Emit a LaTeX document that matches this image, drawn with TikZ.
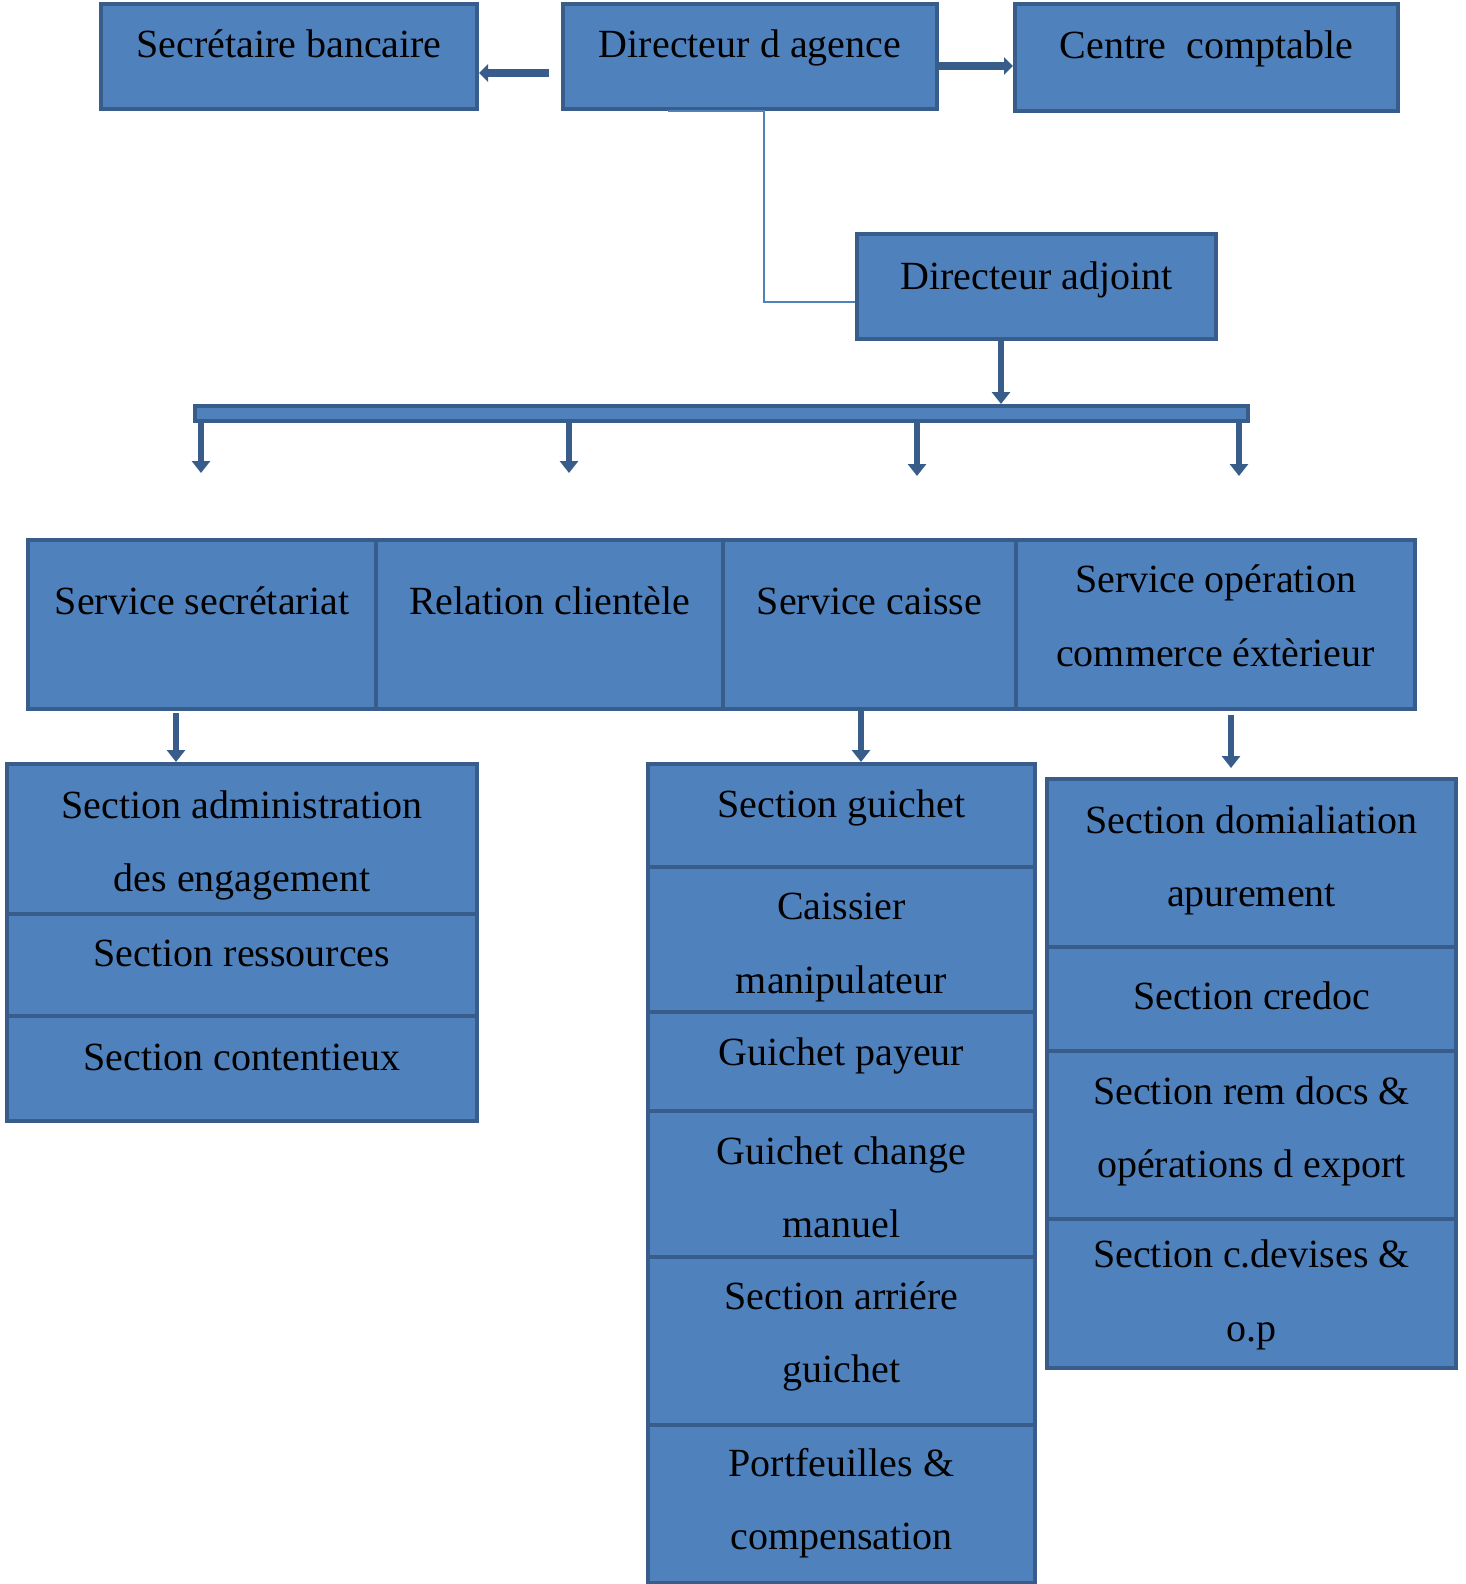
\documentclass[tikz,border=0pt]{standalone}
\usepackage{fontspec}
\setmainfont{Liberation Serif}
\usepackage{tikz}
\usetikzlibrary{arrows.meta,positioning}
\definecolor{bfill}{HTML}{4F81BD}
\definecolor{bline}{HTML}{385D8A}

\begin{document}
\begin{tikzpicture}[x=1pt,y=-1pt,
   every node/.style={font=\fontsize{40}{73.5}\selectfont},
   bx/.style={rectangle,draw=bline,fill=bfill,line width=4pt,inner sep=0pt,align=center},
   lift/.style={text height=35pt,text depth=#1},
   two/.style={text height=108.5pt},
   arr/.style={draw=bline,line width=6pt,-{Triangle[width=18pt,length=12pt]}},
   thk/.style={draw=bline,line width=8pt,-{Triangle[width=17pt,length=9pt]}},
   lnk/.style={draw=bfill,line width=1.5pt}]
  \useasboundingbox (0,0) rectangle (1466,1584);
  % top row
  \node[bx,lift=33pt,minimum width=376pt,minimum height=105pt] (sec) at (289,56.5) {Secrétaire bancaire};
  \node[bx,lift=33pt,minimum width=374pt,minimum height=105pt] (dir) at (750,56.5) {Directeur d agence};
  \node[bx,lift=33pt,minimum width=383pt,minimum height=107pt] (cent) at (1206.5,57.5) {Centre~ comptable};
  \node[bx,lift=29pt,minimum width=359pt,minimum height=105pt] (adj) at (1036.5,286.5) {Directeur adjoint};
  \node[bx,minimum width=1053pt,minimum height=15pt] (bar) at (721.5,413.5) {};
  % services
  \node[bx,lift=55pt,minimum width=348pt,minimum height=169pt] (sv1) at (202,624.5) {Service secrétariat};
  \node[bx,lift=55pt,minimum width=347pt,minimum height=169pt] (sv2) at (549.5,624.5) {Relation clientèle};
  \node[bx,lift=55pt,minimum width=293pt,minimum height=169pt] (sv3) at (869.5,624.5) {Service caisse};
  \node[bx,lift=25.5pt,two,minimum width=399pt,minimum height=169pt] (sv4) at (1215.5,624.5) {Service opération\\commerce éxtèrieur};
  % sections
  \node[bx,lift=3.5pt,two,minimum width=470pt,minimum height=150pt] (adm) at (242,839) {Section administration\\des engagement};
  \node[bx,lift=33pt,minimum width=470pt,minimum height=102pt] (res) at (242,965) {Section ressources};
  \node[bx,lift=31pt,minimum width=470pt,minimum height=105pt] (cont) at (242,1068.5) {Section contentieux};
  \node[bx,lift=31pt,minimum width=387pt,minimum height=103pt] (guich) at (841.5,815.5) {Section guichet};
  \node[bx,lift=1.5pt,two,minimum width=387pt,minimum height=145pt] (caiss) at (841.5,939.5) {Caissier\\manipulateur};
  \node[bx,lift=27pt,minimum width=387pt,minimum height=99pt] (pay) at (841.5,1061.5) {Guichet payeur};
  \node[bx,lift=1.5pt,two,minimum width=387pt,minimum height=146pt] (chg) at (841.5,1184) {Guichet change\\manuel};
  \node[bx,lift=25.5pt,two,minimum width=387pt,minimum height=168pt] (arr) at (841.5,1341) {Section arriére\\guichet};
  \node[bx,lift=17.5pt,two,minimum width=387pt,minimum height=158pt] (portf) at (841.5,1504) {Portfeuilles \&\\compensation};
  \node[bx,lift=21.5pt,two,minimum width=409pt,minimum height=168pt] (domi) at (1251.5,863) {Section domialiation\\apurement};
  \node[bx,lift=15pt,minimum width=409pt,minimum height=104pt] (cred) at (1251.5,999) {Section credoc};
  \node[bx,lift=23.5pt,two,minimum width=409pt,minimum height=168pt] (rem) at (1251.5,1135) {Section rem docs \&\\opérations d export};
  \node[bx,lift=13.5pt,two,minimum width=409pt,minimum height=149pt] (cdev) at (1251.5,1293.5) {Section c.devises \&\\o.p};
  % connectors
  \draw[thk] ([xshift=-12pt,yshift=-16.5pt]dir.west) -- ([yshift=-16.5pt]sec.east);
  \draw[thk] ([yshift=-9.5pt]dir.east) -- ([yshift=-8.5pt]cent.west);
  \draw[lnk] ([xshift=-82pt]dir.south) -- ([xshift=14pt]dir.south) |- ([yshift=-15.5pt]adj.west);
  \draw[arr] ([xshift=-35.5pt]adj.south) -- ([xshift=-35.5pt]adj.south |- bar.north);
  \foreach \i/\x/\e in {1/201/473,2/569/473,3/917/476,4/1239/476}{
    \coordinate (t\i) at (\x,\e);
    \draw[arr] (bar.south -| t\i) -- (t\i);
  }
  \coordinate (s1) at (176,713);
  \coordinate (s2) at (861,707);
  \coordinate (s3) at (1231,715);
  \coordinate (e3) at (1231,768);
  \draw[arr] (s1) -- (adm.north -| s1);
  \draw[arr] (s2) -- (guich.north -| s2);
  \draw[arr] (s3) -- (e3);
\end{tikzpicture}
\end{document}
